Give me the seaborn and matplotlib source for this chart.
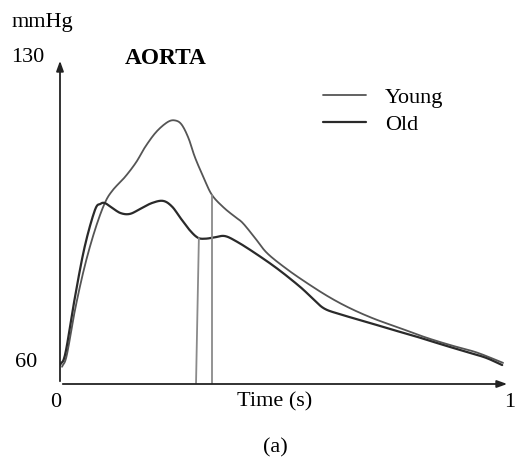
import matplotlib
matplotlib.use("Agg")
import matplotlib.pyplot as plt
import seaborn as sns
import numpy as np
import pandas as pd

sns.set_theme(style="white")
plt.rcParams['font.family'] = ['Liberation Serif', 'DejaVu Serif']
plt.rcParams['text.color'] = 'black'

# Data (time in s, pressure in mmHg)
young_t = [0.0045, 0.015, 0.0335, 0.055, 0.078, 0.100, 0.118, 0.145, 0.170, 0.190, 0.215, 0.241,
           0.258, 0.272, 0.287, 0.301, 0.320, 0.339, 0.365, 0.391, 0.408, 0.435, 0.462, 0.505,
           0.551, 0.600, 0.647, 0.700, 0.759, 0.815, 0.871, 0.930, 0.989]
young_p = [58.9, 61.5, 72.0, 82.0, 90.4, 96.6, 99.6, 102.6, 106.0, 109.5, 113.0, 115.3,
           115.6, 114.6, 111.5, 107.2, 102.6, 98.5, 95.6, 93.4, 92.0, 88.6, 85.1, 81.5,
           78.2, 75.0, 72.4, 70.0, 67.8, 65.7, 63.9, 62.2, 59.8]

old_t = [0.0, 0.012, 0.0335, 0.055, 0.078, 0.090, 0.100, 0.115, 0.135, 0.156, 0.180, 0.205, 0.230,
         0.250, 0.270, 0.290, 0.308, 0.325, 0.345, 0.368, 0.395, 0.435, 0.485, 0.536, 0.565,
         0.590, 0.625, 0.685, 0.740, 0.797, 0.850, 0.908, 0.950, 0.987]
old_p = [59.3, 62.0, 75.0, 86.5, 95.0, 96.4, 96.6, 95.6, 94.3, 94.1, 95.3, 96.6, 97.1,
         95.8, 93.0, 90.3, 88.6, 88.4, 88.7, 89.0, 87.7, 85.1, 81.5, 77.3, 74.5,
         72.3, 71.0, 69.2, 67.5, 65.8, 64.1, 62.3, 61.0, 59.3]

# Valve-closure markers (time of foot, pressure at top)
marker_t_bottom = [0.3036, 0.339]
marker_t_top = [0.310, 0.339]
marker_p_top = [88.55, 98.45]

y_ticks = [60, 130]
x_ticks = [0, 1]


def smooth(t, p, n=12):
    """Catmull-Rom curve through the read points (rendering only)."""
    t = np.asarray(t, float)
    p = np.asarray(p, float)
    T = np.concatenate([[2 * t[0] - t[1]], t, [2 * t[-1] - t[-2]]])
    P = np.concatenate([[2 * p[0] - p[1]], p, [2 * p[-1] - p[-2]]])
    xs, ys = [], []
    s = np.linspace(0, 1, n, endpoint=False)
    for i in range(1, len(T) - 2):
        for A, out in ((T, xs), (P, ys)):
            p0, p1, p2, p3 = A[i - 1], A[i], A[i + 1], A[i + 2]
            out.extend(0.5 * ((2 * p1) + (-p0 + p2) * s + (2 * p0 - 5 * p1 + 4 * p2 - p3) * s**2
                              + (-p0 + 3 * p1 - 3 * p2 + p3) * s**3))
    xs.append(t[-1])
    ys.append(p[-1])
    return np.array(xs), np.array(ys)


yt, yp = smooth(young_t, young_p)
ot, op = smooth(old_t, old_p)
df = pd.concat([
    pd.DataFrame({"t": yt, "p": yp, "group": "Young"}),
    pd.DataFrame({"t": ot, "p": op, "group": "Old"}),
])

fig = plt.figure(figsize=(5.19, 4.61), dpi=100)
ax = fig.add_axes([60/519, 77/461, 450/519, 326/461])

ymin = 60 - 22/4.343
ax.set_xlim(0, 450/448)
ax.set_ylim(ymin, 130)

sns.lineplot(data=df[df.group == "Young"], x="t", y="p", ax=ax, color="#555555",
             lw=1.3, sort=False, estimator=None, label="Young")
sns.lineplot(data=df[df.group == "Old"], x="t", y="p", ax=ax, color="#2a2a2a",
             lw=1.6, sort=False, estimator=None, label="Old")

for tb, tt, pt in zip(marker_t_bottom, marker_t_top, marker_p_top):
    ax.plot([tb, tt], [ymin, pt], color="#8a8a8a", lw=1.3)

for s in ax.spines.values():
    s.set_visible(False)
ax.set_xticks([])
ax.set_yticks([])
ax.set_xlabel("")
ax.set_ylabel("")

# axis arrows
ax.annotate("", xy=(0, 1.0), xytext=(0, 0), xycoords="axes fraction",
            arrowprops=dict(arrowstyle="-|>,head_width=0.18,head_length=0.5", color="#222222", lw=1.3))
ax.annotate("", xy=(1.0, 0), xytext=(0, 0), xycoords="axes fraction",
            arrowprops=dict(arrowstyle="-|>,head_width=0.18,head_length=0.5", color="#222222", lw=1.3))

fs = 16
trans_y = ax.get_yaxis_transform()
ax.text(-0.035, y_ticks[1], str(y_ticks[1]), transform=trans_y, ha="right", va="center", fontsize=fs)
ax.text(-0.05, y_ticks[0], str(y_ticks[0]), transform=trans_y, ha="right", va="center", fontsize=fs)
fig.text(12/519, 1 - 22/461, "mmHg", ha="left", va="center", fontsize=fs)
fig.text(125/519, 1 - 58/461, "AORTA", ha="left", va="center", fontsize=16.8, fontweight="bold")
fig.text(56/519, 1 - 402/461, str(x_ticks[0]), ha="center", va="center", fontsize=fs)
fig.text(510/519, 1 - 402/461, str(x_ticks[1]), ha="center", va="center", fontsize=fs)
fig.text(275/519, 1 - 402/461, "Time (s)", ha="center", va="center", fontsize=fs)
fig.text(275/519, 1 - 448/461, "(a)", ha="center", va="center", fontsize=fs)

leg = ax.legend(loc="upper left", bbox_to_anchor=(263/450, 1 - 29/326), frameon=False,
                fontsize=fs, handlelength=1.95, handletextpad=0.85, labelspacing=0.3,
                borderpad=0, borderaxespad=0, labelcolor="black")

fig.savefig("out.png", dpi=100)
